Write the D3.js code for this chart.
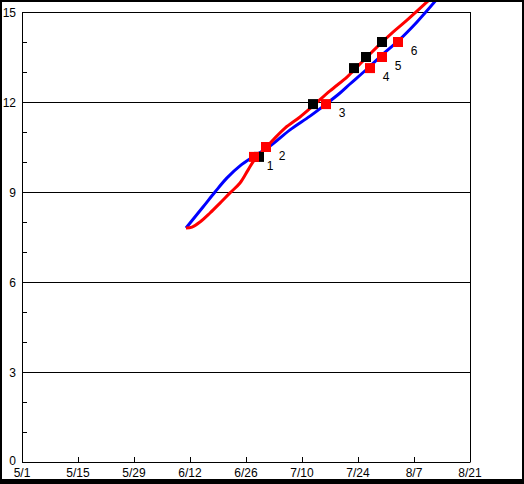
<!DOCTYPE html>
<html lang="en">
<head>
    <meta charset="utf-8">
    <title>Season curves</title>
    <script src="https://d3js.org/d3.v7.min.js"></script>
    <style>
        body { margin: 0; background: #fff; }
        text { font-family: "Liberation Sans", Arial, sans-serif; font-size: 12px; fill: #000; }
    </style>
</head>
<body>
<svg id="chart"></svg>
<script>
    // x is days counted from 5/1
    const xTickDays = [0, 14, 28, 42, 56, 70, 84, 98, 112];
    const xTickLabels = ["5/1", "5/15", "5/29", "6/12", "6/26", "7/10", "7/24", "8/7", "8/21"];
    const yMajor = [0, 3, 6, 9, 12, 15];
    const yMinor = [1, 2, 4, 5, 7, 8, 10, 11, 13, 14];

    const blueDays = [41, 45.25, 48.25, 51.25, 54.5, 57.75, 62, 67, 72, 76, 79.5, 82, 86.25, 90.25, 94, 98.75, 103.75];
    const blueVals = [7.8, 8.5, 9.0, 9.47, 9.87, 10.17, 10.53, 11.07, 11.53, 11.93, 12.3, 12.6, 13.1, 13.6, 14.03, 14.67, 15.43];

    const redDays = [41, 42.5, 44.5, 47, 49.5, 52, 54.5, 56.5, 58.25, 60, 62.75, 65.75, 69.5, 72.75, 77, 81.25, 82.75, 86.25, 89.5, 92.75, 96.25, 102];
    const redVals = [7.8, 7.83, 8.0, 8.3, 8.63, 8.97, 9.3, 9.73, 10.1, 10.33, 10.73, 11.13, 11.5, 11.87, 12.37, 12.83, 13.03, 13.5, 13.93, 14.33, 14.73, 15.43];

    // numbered points: red squares sit on the blue curve, black ones on the red curve
    const pointLabels = ["1", "2", "3", "4", "5", "6"];
    const pointVals = [10.17, 10.5, 11.93, 13.13, 13.5, 14.0];
    const redMarkDays = [58, 61, 76, 87, 90, 94];
    const blackMarkDays = [59.25, 61, 72.75, 83, 86, 90];

    let width = 524, height = 484,
        margin = {top: 12, right: 54, bottom: 22, left: 22},
        chartWidth = width - margin.left - margin.right,
        chartHeight = height - margin.top - margin.bottom;

    let svg = d3.select("#chart")
        .attr("width", width)
        .attr("height", height);

    // black frame round the picture
    svg.append("rect").attr("width", width).attr("height", height).attr("fill", "#000");
    svg.append("rect").attr("x", 2).attr("y", 2).attr("width", 520).attr("height", 477).attr("fill", "#fff");

    let x = d3.scaleLinear().domain([0, 112]).range([margin.left, margin.left + chartWidth]);
    let y = d3.scaleLinear().domain([0, 15]).range([margin.top + chartHeight, margin.top]);

    // grid lines at the labelled values
    svg.append("g")
        .selectAll("line")
        .data(yMajor)
        .enter().append("line")
        .attr("x1", x(0)).attr("x2", x(112))
        .attr("y1", d => y(d) + 0.5).attr("y2", d => y(d) + 0.5)
        .attr("stroke", "#000");

    // minor ticks on the left axis
    svg.append("g")
        .selectAll("line")
        .data(yMinor)
        .enter().append("line")
        .attr("x1", x(0)).attr("x2", x(0) + 5)
        .attr("y1", d => y(d) + 0.5).attr("y2", d => y(d) + 0.5)
        .attr("stroke", "#000");

    // ticks on the bottom axis
    svg.append("g")
        .selectAll("line")
        .data(xTickDays)
        .enter().append("line")
        .attr("x1", d => x(d) + 0.5).attr("x2", d => x(d) + 0.5)
        .attr("y1", y(0)).attr("y2", y(0) - 5)
        .attr("stroke", "#000");

    // left and right borders of the plot
    svg.append("g")
        .selectAll("line")
        .data([0, 112])
        .enter().append("line")
        .attr("x1", d => x(d) + 0.5).attr("x2", d => x(d) + 0.5)
        .attr("y1", y(15)).attr("y2", y(0) + 0.5)
        .attr("stroke", "#000");

    svg.append("g")
        .selectAll("text")
        .data(yMajor)
        .enter().append("text")
        .attr("x", 16)
        .attr("y", d => y(d) + (d === 0 ? 3 : 5))
        .attr("text-anchor", "end")
        .text(d => d);

    svg.append("g")
        .selectAll("text")
        .data(xTickDays)
        .enter().append("text")
        .attr("x", d => x(d))
        .attr("y", 477)
        .attr("text-anchor", "middle")
        .text((d, i) => xTickLabels[i]);

    let line = d3.line()
        .x(d => x(d[0]))
        .y(d => y(d[1]))
        .curve(d3.curveCatmullRom);

    svg.append("path")
        .datum(d3.zip(blueDays, blueVals))
        .attr("d", line)
        .attr("fill", "none")
        .attr("stroke", "#0000ff")
        .attr("stroke-width", 3);

    svg.append("path")
        .datum(d3.zip(redDays, redVals))
        .attr("d", line)
        .attr("fill", "none")
        .attr("stroke", "#ff0000")
        .attr("stroke-width", 3);

    svg.append("g")
        .selectAll("rect")
        .data(d3.zip(blackMarkDays, pointVals))
        .enter().append("rect")
        .attr("x", d => x(d[0]) - 5).attr("y", d => y(d[1]) - 5)
        .attr("width", 10).attr("height", 10)
        .attr("fill", "#000");

    svg.append("g")
        .selectAll("rect")
        .data(d3.zip(redMarkDays, pointVals))
        .enter().append("rect")
        .attr("x", d => x(d[0]) - 5).attr("y", d => y(d[1]) - 5)
        .attr("width", 10).attr("height", 10)
        .attr("fill", "#ff0000");

    svg.append("g")
        .selectAll("text")
        .data(d3.zip(redMarkDays, pointVals, pointLabels))
        .enter().append("text")
        .attr("x", d => x(d[0]) + 16)
        .attr("y", d => y(d[1]) + 13)
        .attr("text-anchor", "middle")
        .text(d => d[2]);

    // frame drawn again so the curves stop at it
    svg.append("path")
        .attr("d", `M0,0H${width}V${height}H0Z M2,2V479H522V2Z`)
        .attr("fill", "#000")
        .attr("fill-rule", "evenodd");
</script>
</body>
</html>
